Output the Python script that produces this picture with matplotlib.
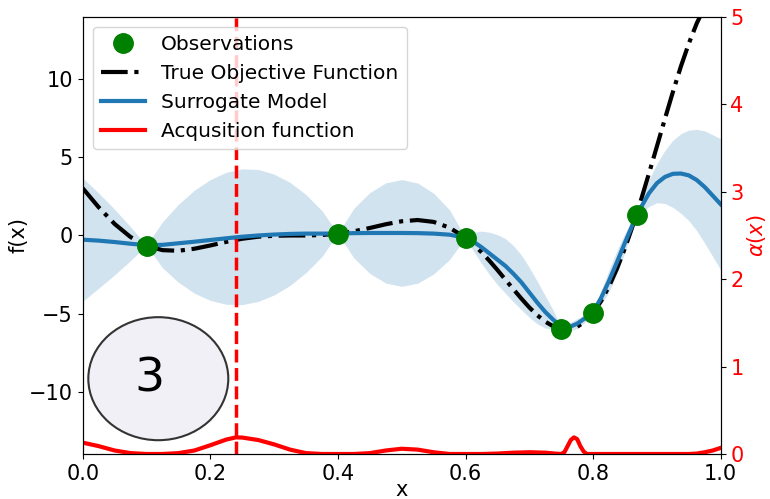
import matplotlib
matplotlib.use("Agg")
import matplotlib.pyplot as plt
from matplotlib.patches import Ellipse
import numpy as np

# --- observed samples -------------------------------------------------------
obs_x = [0.10, 0.40, 0.60, 0.75, 0.80, 0.868]
obs_y = [-0.66, 0.12, -0.15, -5.99, -4.95, 1.30]

# --- true objective on a fine grid -----------------------------------------
true_x = [0.000, 0.025, 0.050, 0.075, 0.100, 0.125, 0.150, 0.175, 0.200,
          0.225, 0.250, 0.275, 0.300, 0.325, 0.350, 0.375, 0.400, 0.425,
          0.450, 0.475, 0.500, 0.525, 0.550, 0.575, 0.600, 0.6125, 0.625,
          0.6375, 0.650, 0.6625, 0.675, 0.6875, 0.700, 0.7125, 0.725,
          0.7375, 0.750, 0.7625, 0.775, 0.7875, 0.800, 0.8125, 0.825,
          0.8375, 0.850, 0.8625, 0.875, 0.8875, 0.900, 0.9125, 0.925,
          0.9375, 0.950, 0.9625, 0.975, 0.9875, 1.000]
true_y = [3.03, 1.81, 0.74, -0.10, -0.66, -0.94, -0.98, -0.85, -0.64,
          -0.41, -0.21, -0.08, -0.02, 0.00, 0.00, 0.03, 0.12, 0.27,
          0.48, 0.72, 0.91, 0.99, 0.87, 0.50, -0.15, -0.58, -1.07,
          -1.62, -2.21, -2.83, -3.44, -4.04, -4.61, -5.11, -5.52,
          -5.82, -5.99, -6.01, -5.85, -5.51, -4.95, -4.20, -3.25,
          -2.11, -0.80, 0.67, 2.27, 3.97, 5.71, 7.47, 9.19,
          10.82, 12.30, 13.60, 14.65, 15.41, 15.83]

# --- surrogate model: posterior mean and band half-width -------------------
model_x = [0.000, 0.025, 0.050, 0.075, 0.100, 0.125, 0.150, 0.175, 0.200,
           0.225, 0.250, 0.275, 0.300, 0.325, 0.350, 0.375, 0.400, 0.425,
           0.450, 0.475, 0.500, 0.525, 0.550, 0.575, 0.600, 0.6125, 0.625,
           0.6375, 0.650, 0.6625, 0.675, 0.6875, 0.700, 0.7125, 0.725,
           0.7375, 0.750, 0.7625, 0.775, 0.7875, 0.800, 0.8125, 0.825,
           0.8375, 0.850, 0.8625, 0.868, 0.875, 0.8875, 0.900, 0.9125,
           0.925, 0.9375, 0.950, 0.9625, 0.975, 0.9875, 1.000]
model_mean = [-0.27, -0.33, -0.42, -0.53, -0.62, -0.60, -0.50, -0.40, -0.29,
              -0.18, -0.08, 0.00, 0.06, 0.10, 0.12, 0.12, 0.12, 0.15,
              0.16, 0.16, 0.16, 0.15, 0.12, 0.05, -0.15, -0.40, -0.75,
              -1.15, -1.55, -1.95, -2.45, -3.00, -3.65, -4.30, -4.90,
              -5.40, -5.85, -5.87, -5.65, -5.30, -4.90, -4.00, -2.90,
              -1.70, -0.45, 0.75, 1.25, 1.80, 2.70, 3.35, 3.75,
              3.95, 3.97, 3.85, 3.55, 3.10, 2.55, 2.00]
model_band = [3.95, 3.05, 2.10, 1.08, 0.00, 1.47, 2.50, 3.30, 3.87,
              4.23, 4.35, 4.23, 3.87, 3.30, 2.50, 1.47, 0.00, 1.59,
              2.59, 3.21, 3.42, 3.21, 2.59, 1.59, 0.00, 0.61, 1.03,
              1.36, 1.60, 1.75, 1.80, 1.75, 1.60, 1.36, 1.03,
              0.61, 0.00, 0.25, 0.32, 0.25, 0.00, 0.45, 0.70,
              0.75, 0.60, 0.25, 0.00, 0.35, 0.85, 1.25, 1.70,
              2.15, 2.55, 2.90, 3.25, 3.60, 3.90, 4.20]

# --- acquisition function ---------------------------------------------------
acq_x = [0.000, 0.025, 0.050, 0.075, 0.100, 0.125, 0.150, 0.175, 0.200,
         0.225, 0.240, 0.250, 0.275, 0.300, 0.325, 0.350, 0.375, 0.400,
         0.425, 0.450, 0.475, 0.500, 0.525, 0.550, 0.575, 0.600, 0.625,
         0.650, 0.675, 0.700, 0.725, 0.740, 0.750, 0.755, 0.760, 0.765,
         0.770, 0.775, 0.780, 0.785, 0.790, 0.800, 0.850, 0.900, 0.950,
         0.9625, 0.975, 0.9875, 1.000]
acq_y = [0.13, 0.09, 0.04, 0.01, 0.00, 0.00, 0.01, 0.04, 0.10,
         0.165, 0.19, 0.188, 0.16, 0.11, 0.05, 0.01, 0.00, 0.00,
         0.00, 0.01, 0.04, 0.06, 0.05, 0.02, 0.00, 0.00, 0.00,
         0.005, 0.015, 0.02, 0.015, 0.005, 0.00, 0.02, 0.09, 0.16,
         0.19, 0.17, 0.09, 0.03, 0.00, 0.00, 0.00, 0.00, 0.00,
         0.005, 0.02, 0.04, 0.07]
next_x = 0.24

plt.rcParams["font.family"] = ["DejaVu Sans"]
TICK_FS = 15
LEG_FS = 14.5

fig = plt.figure(figsize=(7.7, 4.99), dpi=100)
ax = fig.add_axes([0.1074, 0.0902, 0.8286, 0.8758])

mx = np.array(model_x)
mm = np.array(model_mean)
mb = np.array(model_band)

ax.fill_between(mx, mm - mb, mm + mb, color="#1f77b4", alpha=0.2, linewidth=0)
true_line, = ax.plot(true_x, true_y, color="black", linestyle="-.", linewidth=3,
                     label="True Objective Function")
model_line, = ax.plot(mx, mm, color="#1f77b4", linewidth=3, label="Surrogate Model")
obs_pts, = ax.plot(obs_x, obs_y, "o", color="green", markersize=14,
                   linestyle="none", label="Observations", zorder=5)

ax.set_xlim(0, 1)
ax.set_ylim(-14, 14)
ax.set_xticks([0.0, 0.2, 0.4, 0.6, 0.8, 1.0])
ax.set_yticks([-10, -5, 0, 5, 10])
ax.tick_params(labelsize=TICK_FS)
ax.set_xlabel("x", fontsize=TICK_FS, labelpad=-3)
ax.set_ylabel("f(x)", fontsize=TICK_FS, labelpad=0)

ax2 = ax.twinx()
acq_line, = ax2.plot(acq_x, acq_y, color="red", linewidth=3,
                     label="Acqusition function")
ax2.axvline(next_x, color="red", linestyle="--", linewidth=2.5)
ax2.set_ylim(0, 5)
ax2.set_yticks([0, 1, 2, 3, 4, 5])
ax2.tick_params(axis="y", labelsize=TICK_FS, labelcolor="red")
ax2.set_ylabel(r"$\alpha(x)$", fontsize=TICK_FS, color="red", labelpad=1)

ax2.legend(handles=[obs_pts, true_line, model_line, acq_line],
           loc="upper left", fontsize=LEG_FS, handlelength=2.2)

badge = Ellipse((0.1185, 0.1723), 0.2194, 0.2815, transform=ax2.transAxes,
                facecolor="#f0f0f6", edgecolor="#333333", linewidth=1.5, zorder=10)
ax2.add_patch(badge)
ax2.text(0.104, 0.172, "3", transform=ax2.transAxes, fontsize=34,
         ha="center", va="center", zorder=11)

fig.savefig("out.png", dpi=100)
